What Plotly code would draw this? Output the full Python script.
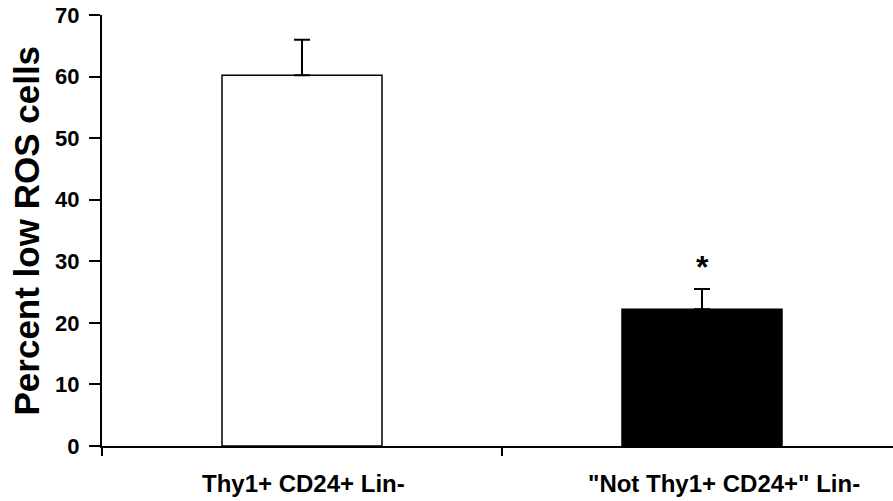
import plotly.graph_objects as go

categories = ["Thy1+ CD24+ Lin-", "\"Not Thy1+ CD24+\" Lin-"]
values = [60.2, 22.2]
err_plus = [5.8, 3.3]
fills = ["white", "black"]
y_ticks = [0, 10, 20, 30, 40, 50, 60, 70]
asterisk_y = 29.0

W, H = 893, 501
ml, mr, mt, mb = 102, 0, 15, 55
plot_w = W - ml - mr

fig = go.Figure()
fig.add_trace(go.Bar(
    x=categories, y=values, width=0.4,
    marker=dict(color=fills, line=dict(color="black", width=1.5)),
    error_y=dict(type="data", symmetric=False, array=err_plus,
                 arrayminus=[0, 0], color="black", thickness=2, width=8),
    showlegend=False,
))

font = "Liberation Sans, Arial, sans-serif"
# category labels (second label sits slightly right of its bar in the original)
label_shift = [1, 22]
for cat, dx in zip(categories, label_shift):
    fig.add_annotation(x=cat, y=0, xref="x", yref="y", text="<b>" + cat + "</b>",
                       showarrow=False, xanchor="center", yanchor="middle",
                       xshift=dx, yshift=-37,
                       font=dict(family=font, size=24, color="black"))

fig.add_annotation(x=categories[1], y=asterisk_y, text="<b>*</b>", showarrow=False,
                   font=dict(family=font, size=32, color="black"),
                   xref="x", yref="y", yanchor="middle")
fig.add_annotation(x=(26 - ml) / plot_w, y=0.5, xref="paper", yref="paper",
                   text="<b>Percent low ROS cells</b>", textangle=-90, showarrow=False,
                   font=dict(family=font, size=35, color="black"),
                   xanchor="center", yanchor="middle")

fig.update_layout(
    width=W, height=H,
    margin=dict(l=ml, r=mr, t=mt, b=mb),
    plot_bgcolor="white", paper_bgcolor="white",
)
fig.update_xaxes(
    type="category", range=[-0.5, -0.5 + plot_w / 400],
    showline=True, linecolor="black", linewidth=2,
    ticks="outside", tickson="boundaries", ticklen=8, tickwidth=2, tickcolor="black",
    showticklabels=False, showgrid=False, zeroline=False,
)
fig.update_yaxes(
    range=[0, 70], tickvals=y_ticks,
    showline=True, linecolor="black", linewidth=2,
    ticks="outside", ticklen=11, tickwidth=2, tickcolor="black",
    tickfont=dict(family=font, size=22, color="black", weight="bold"),
    ticklabelstandoff=5, showgrid=False, zeroline=False,
)

fig.write_html("out.html")
